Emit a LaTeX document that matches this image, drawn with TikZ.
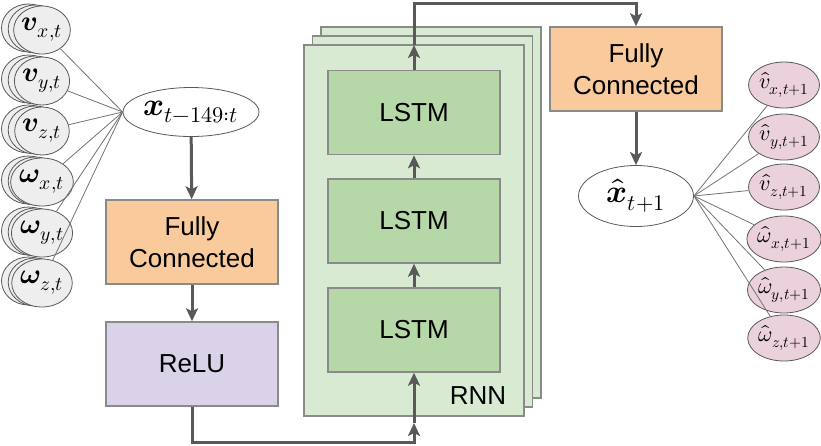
\documentclass[tikz,border=0pt]{standalone}
\usepackage{fontspec}
\usepackage{unicode-math}
\setmainfont{Liberation Sans}
\setmathfont{Latin Modern Math}
\usetikzlibrary{shapes.geometric,arrows.meta}

% Colours of the layers
\definecolor{fcorange}{HTML}{F9CB9C}
\definecolor{relupurple}{HTML}{D9D2E9}
\definecolor{lstmgreen}{HTML}{B6D7A8}
\definecolor{rnngreen}{HTML}{D9EAD3}
\definecolor{outpink}{HTML}{EAD1DC}
\definecolor{ingray}{HTML}{EEEEEE}
\definecolor{edgegray}{HTML}{8A8A8A}
\definecolor{arrowgray}{HTML}{595959}

\tikzset{
  layerbox/.style={draw=edgegray, line width=1.5pt, minimum width=172pt,
    minimum height=84pt, inner sep=0pt, align=center,
    font=\fontsize{26}{32}\selectfont},
  fcbox/.style={layerbox, fill=fcorange},
  relubox/.style={layerbox, fill=relupurple},
  lstmbox/.style={layerbox, fill=lstmgreen},
  rnnsheet/.style={draw=edgegray, line width=1.5pt, fill=rnngreen,
    minimum width=220pt, minimum height=371pt, inner sep=0pt},
  arr/.style={draw=arrowgray, line width=3pt,
    -{Stealth[length=13pt,width=12pt,inset=3pt]}},
  link/.style={draw=black!55, line width=0.8pt},
  invec/.style={ellipse, draw=black!65, line width=0.8pt, fill=ingray,
    minimum width=54pt, minimum height=48pt, inner sep=0pt,
    font=\fontsize{28}{30}\selectfont},
  outvec/.style={ellipse, draw=black!65, line width=0.8pt, fill=outpink,
    minimum width=71pt, minimum height=46pt, inner sep=0pt,
    font=\fontsize{22}{24}\selectfont},
  seqnode/.style={ellipse, draw=black!65, line width=0.8pt, fill=white,
    inner sep=0pt, font=\fontsize{32}{34}\selectfont}
}

\begin{document}
\begin{tikzpicture}[x=1pt,y=-1pt]

% canvas (y grows downwards, one unit per pixel)
\useasboundingbox (0,0) rectangle (821,445);

% --- Input features (stacked in time) ---
\foreach \lab/\ypos [count=\i] in {%
    {\symbfit{v}_{x,t}}/30, {\symbfit{v}_{y,t}}/81, {\symbfit{v}_{z,t}}/131,
    {\symbfit{\omega}_{x,t}}/182, {\symbfit{\omega}_{y,t}}/233,
    {\symbfit{\omega}_{z,t}}/283} {
  \node[invec] at (28.5,\ypos-2) {};
  \node[invec] at (35.2,\ypos-1) {};
  \node[invec] (in\i) at (42,\ypos) {$\lab$};
}

% input sequence
\node[seqnode, minimum width=136pt, minimum height=49pt] (xin) at (191,112)
  {$\symbfit{x}_{t-149:t}$};

% --- Encoder ---
\node[fcbox] (fcin) at (192,242) {Fully\\Connected};
\node[relubox] (relu) at (192,364) {ReLU};

% --- RNN block (three sheets) ---
\node[rnnsheet] at (431,212.5) {};
\node[rnnsheet] at (422.5,221.5) {};
\node[rnnsheet] (rnn) at (414,230.5) {};
\node[font=\fontsize{26}{32}\selectfont] (rnnlab) at (478,396) {RNN};

\node[lstmbox] (lstmA) at (414,112.5) {LSTM};
\node[lstmbox] (lstmB) at (414,221) {LSTM};
\node[lstmbox] (lstmC) at (414,330) {LSTM};

% entry and exit points on the RNN sheet
\coordinate (rnnin)  at (414,423);
\coordinate (rnnout) at (414,45);

% --- Decoder ---
\node[fcbox] (fcout) at (636,69) {Fully\\Connected};
\node[seqnode, minimum width=115pt, minimum height=61pt] (xhat) at (636,196)
  {$\hat{\symbfit{x}}_{t+1}$};

% --- Output features ---
\foreach \lab/\ypos [count=\i] in {%
    {\hat{v}_{x,t+1}}/85, {\hat{v}_{y,t+1}}/137, {\hat{v}_{z,t+1}}/187,
    {\hat{\omega}_{x,t+1}}/239, {\hat{\omega}_{y,t+1}}/290,
    {\hat{\omega}_{z,t+1}}/338}
  \node[outvec] (out\i) at (784,\ypos) {$\lab$};

% --- Feature links ---
\foreach \i in {1,...,6} {
  \draw[link] (in\i) -- (xin.west);
  \draw[link] (xhat.east) -- (out\i);
}

% --- Data flow ---
\draw[arr] (xin) -- (fcin);
\draw[arr] (fcin) -- (relu);
\draw[arr] (relu.south) |- (414,442) -- (rnnin);
\draw[arr] (rnnin) -- (lstmC);
\draw[arr] (lstmC) -- (lstmB);
\draw[arr] (lstmB) -- (lstmA);
\draw[arr] (lstmA) -- (rnnout);
\draw[arr] (rnnout) -- (414,3) -| (fcout.north);
\draw[arr] (fcout) -- (xhat);

\end{tikzpicture}
\end{document}
